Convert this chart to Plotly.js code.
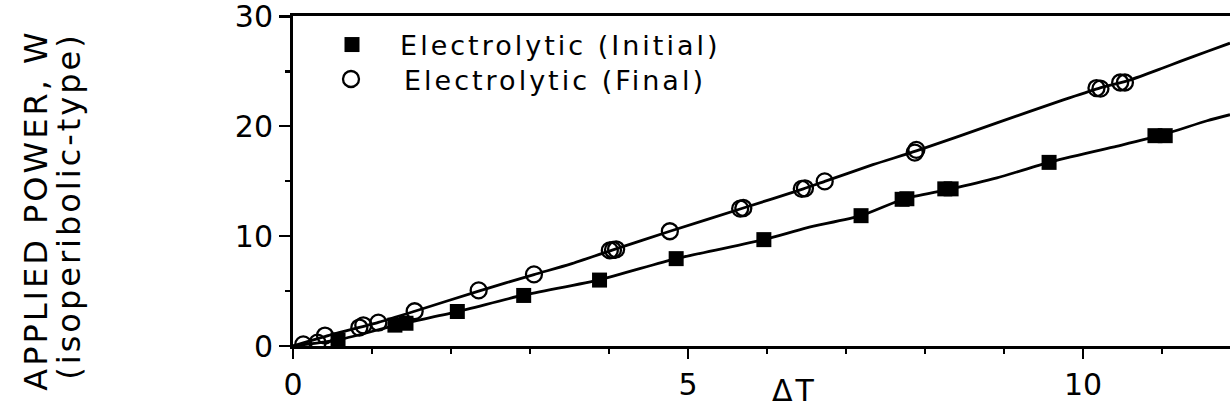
<!DOCTYPE html>
<html>
<head>
<meta charset="utf-8">
<script src="https://cdn.plot.ly/plotly-3.0.1.min.js"></script>
<style>
  html, body { margin: 0; padding: 0; background: #fff; }
  #chart { width: 1230px; height: 412px; }
  .legendtext, .infolayer text, .annotation-text { letter-spacing: 3px; }
  .infolayer .scrollbox { clip-path: none !important; }
</style>
</head>
<body>
<div id="chart"></div>
<script>
// ---- data ----
const initialX = [0.57, 1.29, 1.43, 2.08, 2.92, 3.88, 4.85, 5.96, 7.19, 7.71, 7.77, 8.25, 8.33, 9.57, 10.91, 11.04];
const initialY = [0.55, 1.9, 2.07, 3.14, 4.6, 6.0, 7.95, 9.68, 11.86, 13.35, 13.4, 14.3, 14.3, 16.71, 19.14, 19.14];

const finalX = [0.13, 0.31, 0.405, 0.84, 0.89, 1.08, 1.54, 2.35, 3.05, 4.01, 4.05, 4.09, 4.77, 5.66, 5.70, 6.44, 6.48, 6.73, 7.87, 7.89, 10.17, 10.22, 10.47, 10.53];
const finalY = [0.14, 0.3, 0.95, 1.68, 1.88, 2.12, 3.16, 5.06, 6.52, 8.7, 8.74, 8.8, 10.44, 12.5, 12.56, 14.3, 14.35, 14.98, 17.6, 17.85, 23.47, 23.42, 23.98, 23.98];

const finalCurveX = [0, 0.5, 1.08, 1.54, 2.35, 3.05, 3.51, 4.05, 4.77, 5.70, 6.46, 6.73, 7.34, 7.89, 8.91, 9.75, 10.2, 10.59, 11.01, 11.23, 11.57, 11.86];
const finalCurveY = [0, 1.05, 2.15, 3.16, 5.0, 6.5, 7.45, 8.75, 10.44, 12.56, 14.3, 14.98, 16.5, 17.75, 20.3, 22.4, 23.45, 24.2, 25.3, 25.9, 26.8, 27.56];

const initialCurveX = [0, 0.59, 1.36, 2.07, 2.91, 3.89, 4.85, 5.96, 6.5, 7.19, 7.73, 8.3, 8.91, 9.57, 10.38, 10.97, 11.57, 11.86];
const initialCurveY = [0, 0.59, 2.0, 3.11, 4.62, 6.05, 7.95, 9.68, 10.75, 11.86, 13.38, 14.25, 15.3, 16.71, 18.1, 19.14, 20.5, 21.05];

const seriesNames = ["\u2002 Electrolytic (Initial)", "\u2002\u2002Electrolytic (Final)"];
const xTitle = "\u0394T";
const yTitle1 = "APPLIED POWER, W";
const yTitle2 = "(isoperibolic-type)";

const FONT = "DejaVu Sans, Verdana, sans-serif";

const traces = [
  { x: finalCurveX, y: finalCurveY, mode: "lines", line: { color: "#000", width: 2.8, shape: "spline", smoothing: 0.6 }, showlegend: false, hoverinfo: "skip" },
  { x: initialCurveX, y: initialCurveY, mode: "lines", line: { color: "#000", width: 2.8, shape: "spline", smoothing: 0.6 }, showlegend: false, hoverinfo: "skip" },
  { x: initialX, y: initialY, name: seriesNames[0], mode: "markers", type: "scatter", legend: "legend",
    marker: { symbol: "square", size: 15, color: "#000", line: { width: 0 } } },
  { x: finalX, y: finalY, name: seriesNames[1], mode: "markers", type: "scatter", legend: "legend2",
    marker: { symbol: "circle-open", size: 16, color: "#000", line: { width: 2.3, color: "#000" } } }
];

const plotL = 293, plotR = 1230, plotT = 16, plotB = 346.5;
const px2x = p => (p - plotL) / (plotR - plotL);
const px2y = p => (plotB - p) / (plotB - plotT);

const legendBase = {
  xanchor: "left", yanchor: "top",
  bgcolor: "rgba(0,0,0,0)", borderwidth: 0,
  font: { family: FONT, size: 27, color: "#000" },
  tracegroupgap: 0
};

const layout = {
  width: 1230, height: 412,
  margin: { l: 293, r: 0, t: 16, b: 65.5, pad: 0 },
  paper_bgcolor: "#fff", plot_bgcolor: "#fff",
  font: { family: FONT, color: "#000", size: 30 },
  showlegend: true,
  legend: Object.assign({}, legendBase, { x: px2x(332), y: px2y(20.5) }),
  legend2: Object.assign({}, legendBase, { x: px2x(331), y: px2y(55) }),
  xaxis: {
    range: [0, 11.86], showline: true, linecolor: "#000", linewidth: 3, mirror: true,
    ticks: "outside", ticklen: 10, tickwidth: 2.5, tickcolor: "#000",
    tick0: 0, dtick: 5, showgrid: false, zeroline: false, ticklabeloverflow: "allow",
    tickfont: { family: FONT, size: 30, color: "#000" },
    minor: { dtick: 1, tick0: 0, ticks: "outside", ticklen: 5, tickwidth: 2.5, tickcolor: "#000", showgrid: false }
  },
  yaxis: {
    range: [0, 30.03], showline: true, linecolor: "#000", linewidth: 3,
    ticks: "outside", ticklen: 11, tickwidth: 2.5, tickcolor: "#000",
    tickmode: "array", tickvals: [0, 10, 20, 30], ticktext: ["0", "10", "20", "30"],
    showgrid: false, zeroline: false, ticklabeloverflow: "allow",
    tickfont: { family: FONT, size: 30, color: "#000" },
    minor: { tickvals: [5, 15, 25], ticks: "outside", ticklen: 5, tickwidth: 2.5, tickcolor: "#000", showgrid: false }
  },
  annotations: [
    { text: xTitle, xref: "paper", yref: "paper", x: px2x(794), y: px2y(411), xanchor: "center", yanchor: "bottom", showarrow: false, font: { family: FONT, size: 30, color: "#000" } },
    { text: yTitle1, xref: "paper", yref: "paper", x: px2x(36), y: px2y(211), xanchor: "center", yanchor: "middle", textangle: -90, showarrow: false, font: { family: FONT, size: 32, color: "#000" } },
    { text: yTitle2, xref: "paper", yref: "paper", x: px2x(69), y: px2y(207), xanchor: "center", yanchor: "middle", textangle: -90, showarrow: false, font: { family: FONT, size: 32, color: "#000" } }
  ]
};

Plotly.newPlot("chart", traces, layout, { displayModeBar: false, staticPlot: true });
</script>
</body>
</html>
